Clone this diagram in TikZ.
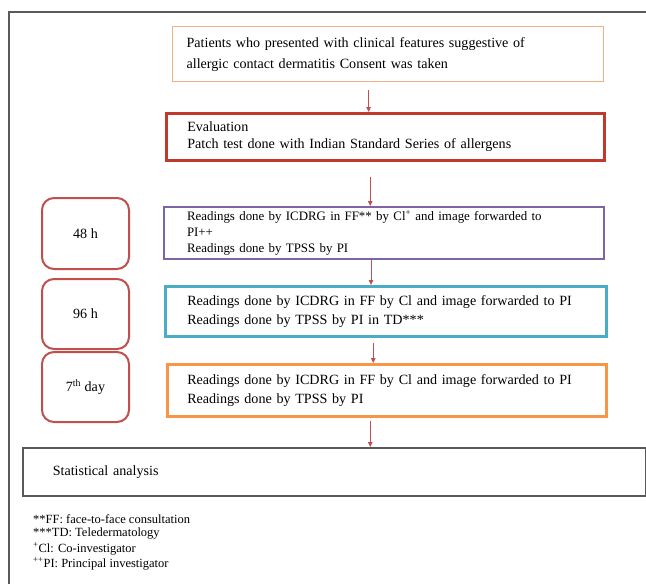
\documentclass[tikz,border=0pt]{standalone}
\usepackage{fontspec}
\setmainfont{Liberation Serif}
\usetikzlibrary{arrows.meta}
\definecolor{frameC}{HTML}{5A5A5A}
\definecolor{oneC}{HTML}{F4B183}
\definecolor{twoC}{HTML}{C0392B}
\definecolor{threeC}{HTML}{8064A2}
\definecolor{fourC}{HTML}{4BACC6}
\definecolor{fiveC}{HTML}{F79646}
\definecolor{statC}{HTML}{595959}
\definecolor{timeC}{HTML}{C0504D}
\definecolor{arrC}{HTML}{C0504D}
\begin{document}
\begin{tikzpicture}[x=1pt,y=-1pt,
  box/.style={draw, rectangle, anchor=north west, align=left, inner ysep=0pt,
    font=\fontsize{14.1}{19}\selectfont},
  tbox/.style={draw=timeC, line width=2pt, rounded corners=12pt, anchor=north west,
    inner sep=0pt, minimum width=87pt, align=center, font=\fontsize{14.1}{17}\selectfont},
  arr/.style={draw=arrC, line width=0.8pt, -{Triangle[length=5pt,width=4.5pt]}},
  note/.style={anchor=west, inner sep=0pt, font=\fontsize{12.5}{14}\selectfont}]
\clip (0,0) rectangle (646,584);
\fill[white] (0,0) rectangle (646,584);
\draw[frameC, line width=1.5pt] (9,600) -- (9,12) -- (660,12);

\node[box, draw=oneC, line width=1.2pt, inner xsep=14pt, text width=403pt, minimum width=431pt, minimum height=55pt,
  font=\fontsize{14.1}{21}\selectfont] (b1) at (172,26)
  {Patients who presented with clinical features suggestive of\\allergic contact dermatitis Consent was taken};
\node[box, draw=twoC, line width=2.5pt, inner xsep=21pt, text width=396pt, minimum width=438pt, minimum height=47pt,
  font=\fontsize{14.1}{17.5}\selectfont] (b2) at (165,112)
  {Evaluation\\Patch test done with Indian Standard Series of allergens};
\node[box, draw=threeC, line width=2pt, inner xsep=23pt, text width=394pt, minimum width=440pt, minimum height=52pt,
  font=\fontsize{12.9}{16.2}\selectfont] (b3) at (163,206)
  {Readings done by ICDRG in FF** by Cl\textsuperscript{+} and image forwarded to\\PI++\\Readings done by TPSS by PI};
\node[box, draw=fourC, line width=2.5pt, inner xsep=22pt, text width=397pt, minimum width=441pt, minimum height=50pt] (b4) at (164,285)
  {Readings done by ICDRG in FF by Cl and image forwarded to PI\\Readings done by TPSS by PI in TD***};
\node[box, draw=fiveC, line width=2.5pt, inner xsep=20pt, text width=399pt, minimum width=439pt, minimum height=52pt] (b5) at (166,363)
  {Readings done by ICDRG in FF by Cl and image forwarded to PI\\Readings done by TPSS by PI};
\node[box, draw=statC, line width=1.5pt, inner xsep=30pt, text width=563pt, minimum width=623pt, minimum height=48pt] (st) at (22,447)
  {Statistical analysis};

\node[tbox, minimum height=71pt] (t1) at (41,197) {48 h};
\node[tbox, minimum height=70pt] (t2) at (41,278) {96 h};
\node[tbox, minimum height=70pt] (t3) at (41,351) {7\textsuperscript{th} day};

\draw[arr] ([xshift=-19.5pt,yshift=-8pt]b1.south) coordinate (s1) -- (s1 |- b2.north);
\draw[arr] ([xshift=-15pt,yshift=-15pt]b2.south) coordinate (s2) -- (s2 |- b3.north);
\draw[arr] ([xshift=-13pt]b3.south) coordinate (s3) -- (s3 |- b4.north);
\draw[arr] ([xshift=-12.5pt,yshift=-5pt]b4.south) coordinate (s4) -- (s4 |- b5.north);
\draw[arr] ([xshift=-16.5pt,yshift=-3pt]b5.south) coordinate (s5) -- (s5 |- st.north);

\node[note] (n1) at (33,519) {**FF: face-to-face consultation};
\node[note] (n2) at (33,534) {***TD: Teledermatology};
\node[note] (n3) at (33,549) {\textsuperscript{+}Cl: Co-investigator};
\node[note] (n4) at (33,564) {\textsuperscript{++}PI: Principal investigator};
\end{tikzpicture}
\end{document}
